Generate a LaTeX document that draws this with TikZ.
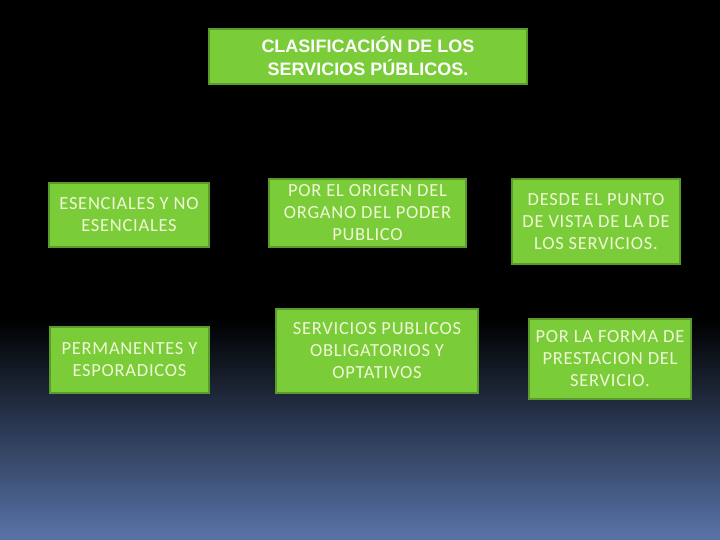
\documentclass[tikz,border=0pt]{standalone}
\usepackage{fontspec}
\setmainfont{Carlito}[LetterSpace=4]
\newfontfamily\titlefont{Liberation Sans}
\definecolor{boxfill}{RGB}{122,204,56}
\definecolor{boxline}{RGB}{90,155,44}
\definecolor{bottomblue}{RGB}{88,116,168}
\definecolor{txt}{RGB}{240,248,215}
\tikzset{
  gbox/.style={draw=boxline, fill=boxfill, line width=2.5pt, inner sep=0pt,
    align=center, text=txt, font=\fontsize{18.5}{22}\selectfont},
}
\begin{document}
\begin{tikzpicture}[x=1pt,y=-1pt]
\useasboundingbox (0,0) rectangle (720,540);
\fill[black] (0,0) rectangle (720,540);
\shade[top color=black, bottom color=bottomblue] (0,320) rectangle (720,540);
\node[gbox, minimum width=318, minimum height=55, font=\titlefont\bfseries\fontsize{18}{23}\selectfont, text=white] (title) at (368,56.5) {CLASIFICACIÓN DE LOS\\SERVICIOS PÚBLICOS.};
\node[gbox, minimum width=160, minimum height=64] (a) at (129,215) {ESENCIALES Y NO\\ESENCIALES};
\node[gbox, minimum width=197, minimum height=68] (b) at (367.5,213) {POR EL ORIGEN DEL\\ORGANO DEL PODER\\PUBLICO};
\node[gbox, minimum width=168, minimum height=85] (c) at (596,221.5) {DESDE EL PUNTO\\DE VISTA DE LA DE\\LOS SERVICIOS.};
\node[gbox, minimum width=159, minimum height=66] (d) at (129.5,360) {PERMANENTES Y\\ESPORADICOS};
\node[gbox, minimum width=202, minimum height=84] (e) at (377,351) {SERVICIOS PUBLICOS\\OBLIGATORIOS Y\\OPTATIVOS};
\node[gbox, minimum width=162, minimum height=80] (f) at (610,359) {POR LA FORMA DE\\PRESTACION DEL\\SERVICIO.};
\end{tikzpicture}
\end{document}
